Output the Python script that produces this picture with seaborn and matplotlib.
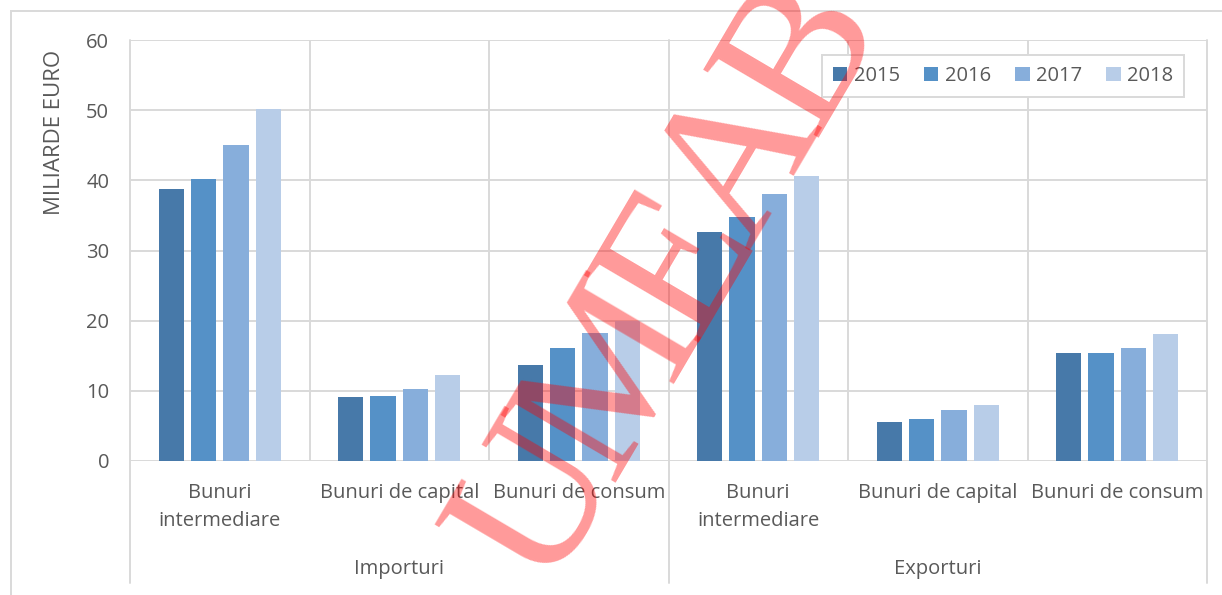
import matplotlib
matplotlib.use("Agg")
import matplotlib.pyplot as plt
import matplotlib.transforms as mtransforms
from matplotlib.patches import Rectangle
import seaborn as sns
import pandas as pd
import numpy as np

# ---- data ----
groups = ["Importuri", "Exporturi"]
categories = ["Bunuri intermediare", "Bunuri de capital", "Bunuri de consum"]
category_labels = ["Bunuri\nintermediare", "Bunuri de capital", "Bunuri de consum"]
years = ["2015", "2016", "2017", "2018"]
values_2015 = [38.7, 9.1, 13.7, 32.6, 5.6, 15.4]
values_2016 = [40.2, 9.3, 16.1, 34.8, 6.0, 15.4]
values_2017 = [45.1, 10.3, 18.2, 38.1, 7.2, 16.1]
values_2018 = [50.2, 12.2, 19.9, 40.6, 8.0, 18.1]
y_label = "MILIARDE EURO"
y_ticks = [0, 10, 20, 30, 40, 50, 60]
watermark = "UMEAB"

colors = ["#4779A9", "#5591C7", "#87AEDB", "#B8CDE8"]
grid_c = "#d9d9d9"
text_c = "#595959"
FS = 14.5

sns.set_theme(style="white")
plt.rcParams["font.family"] = ["Open Sans", "DejaVu Sans"]

keys = [f"{g}|{c}" for g in groups for c in categories]
rows = []
for year, vals in zip(years, [values_2015, values_2016, values_2017, values_2018]):
    for k, v in zip(keys, vals):
        rows.append({"key": k, "year": year, "value": v})
df = pd.DataFrame(rows)

W, H = 1222, 595
fig = plt.figure(figsize=(W / 100, H / 100), dpi=100)
ax = fig.add_axes([130 / W, (H - 461) / H, (1207 - 130) / W, 421 / H])

sns.barplot(data=df, x="key", y="value", hue="year", order=keys, hue_order=years,
            palette=colors, saturation=1, width=0.72, gap=0.22, linewidth=0,
            ax=ax, legend=True)

ax.set_xlim(-0.5, 5.5)
ax.set_ylim(0, 60)
ax.set_yticks(y_ticks)
ax.set_yticklabels([str(t) for t in y_ticks])
ax.yaxis.grid(True, color=grid_c, lw=1.4)
ax.set_axisbelow(True)
for s in ax.spines.values():
    s.set_visible(False)
ax.tick_params(axis="y", length=0, labelsize=FS, labelcolor=text_c, pad=15)
ax.set_xticks([])
ax.set_xlabel("")
ax.set_ylabel("")

# vertical gridlines between categories
for x in [0.5, 1.5, 3.5, 4.5]:
    ax.axvline(x, color=grid_c, lw=1.4, zorder=0)

trans = mtransforms.blended_transform_factory(ax.transData, ax.transAxes)
px = 1 / 421.0
for x in [-0.5, 2.5, 5.5]:
    ax.plot([x, x], [1.0, -(583 - 461) * px], transform=trans, color=grid_c,
            lw=1.4, clip_on=False, zorder=0)

# category labels
for gi, g in enumerate(groups):
    for ci, lab in enumerate(category_labels):
        xi = gi * len(categories) + ci
        for li, line in enumerate(lab.split("\n")):
            ypix = 493 + 28 * li
            ax.text(xi, -(ypix - 461) * px, line, transform=trans, ha="center",
                    va="center", fontsize=FS, color=text_c)
    ax.text(gi * 3 + 1, -(569 - 461) * px, g, transform=trans, ha="center",
            va="center", fontsize=FS, color=text_c)

fig.text(55 / W, 1 - 132 / H, y_label, rotation=90, ha="center", va="center",
         fontsize=16, color=text_c)

# legend
handles, labels = ax.get_legend_handles_labels()
leg = ax.legend(handles, labels, loc="upper right",
                bbox_to_anchor=(1184 / W, 1 - 55 / H), bbox_transform=fig.transFigure,
                ncol=4, frameon=True, fontsize=FS, handlelength=0.72, handleheight=0.72,
                handletextpad=0.31, columnspacing=1.2, borderpad=0.55, borderaxespad=0,
                fancybox=False, framealpha=1)
leg.get_frame().set_edgecolor(grid_c)
leg.get_frame().set_linewidth(1.4)
for t in leg.get_texts():
    t.set_color(text_c)

# outer chart border
fig.add_artist(Rectangle((11 / W, -0.1), 2, 1 - 11 / H + 0.1, transform=fig.transFigure,
                         fill=False, edgecolor=grid_c, lw=1.4))

# watermark (letters placed along a diagonal)
ang = 59.5
th = np.deg2rad(ang)
start = np.array([525.0, 495.0])            # centre of first letter, pixels
direction = np.array([np.cos(th), -np.sin(th)])
up = np.array([-np.sin(th), -np.cos(th)])
half_w = [0.361, 0.445, 0.306, 0.361, 0.334]
em_pitch = 178.8
wm_fs = 146
cap = 0.662 * wm_fs * 100 / 72
pos = 0.0
for i, ch in enumerate(watermark):
    if i > 0:
        pos += (half_w[i - 1] + half_w[i]) * em_pitch
    c = start + direction * pos
    b = c - up * cap / 2
    fig.text(b[0] / W, 1 - b[1] / H, ch, rotation=ang, rotation_mode="anchor",
             ha="center", va="baseline", fontsize=wm_fs, color="red", alpha=0.4,
             family=["Liberation Serif", "DejaVu Serif"], zorder=10)

fig.savefig("out.png", dpi=100)
